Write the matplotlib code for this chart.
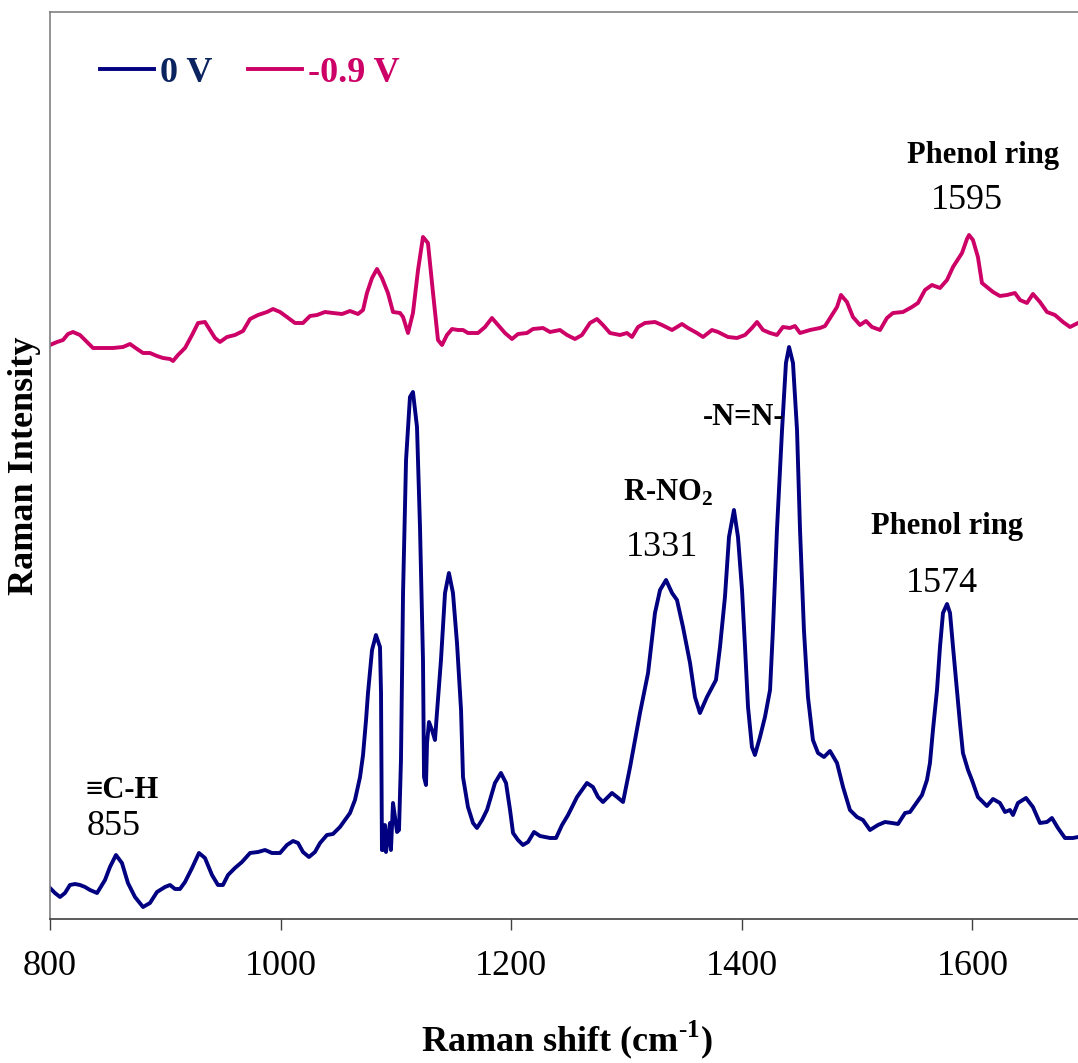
import matplotlib.pyplot as plt
from matplotlib.lines import Line2D

plt.rcParams['font.family'] = ['Liberation Serif', 'DejaVu Serif']
plt.rcParams['mathtext.fontset'] = 'custom'
plt.rcParams['mathtext.rm'] = 'Liberation Serif'
plt.rcParams['mathtext.bf'] = 'Liberation Serif:bold'

# SERS spectrum at 0 V
shift_0v = [800, 804.3, 808.7, 813, 817.3, 821.7, 826, 830.4, 834.7, 840.8, 847.7, 852, 857.2,
            862.4, 867.6, 873.7, 880.7, 886.7, 892.8, 899.7, 904.1, 908.4, 912.7, 917.1, 923.2,
            929.2, 934.4, 940.5, 945.7, 950, 954.4, 960.4, 966.5, 973.5, 980.4, 986.5, 992.5,
            999.5, 1005.5, 1010.8, 1015.1, 1019.4, 1024.6, 1029.8, 1034.2, 1040.2, 1045.4,
            1051.5, 1060.2, 1064.5, 1068.9, 1071.5, 1074.1, 1075.8, 1079.3, 1082.7, 1086.2,
            1087.1, 1087.9, 1088.8, 1090.5, 1091.4, 1094.9, 1095.7, 1097.5, 1101, 1102.7, 1104.4,
            1106.2, 1108.8, 1112.2, 1114.8, 1118.3, 1120.9, 1123.5, 1124.4, 1126.1, 1127, 1128.7,
            1131.3, 1133.9, 1135.6, 1139.1, 1142.6, 1146, 1149.5, 1153, 1156.5, 1158.2, 1162.5,
            1166.9, 1170.3, 1174.7, 1179, 1181.6, 1185.9, 1191.1, 1195.5, 1199, 1201.6, 1205.9,
            1210.2, 1214.6, 1219.8, 1225, 1233.7, 1238.9, 1244.1, 1249.3, 1257.1, 1265.7, 1270.9,
            1275.3, 1279.6, 1287.4, 1291.8, 1297, 1303.1, 1311.7, 1318.7, 1324.7, 1329.1, 1334.3,
            1339.5, 1343.8, 1349, 1355.1, 1359.4, 1363.7, 1369.8, 1377.6, 1381.1, 1385.4, 1388.9,
            1393.2, 1396.7, 1400.2, 1402.8, 1405.4, 1408.8, 1411.4, 1415.8, 1420.1, 1424.5, 1427,
            1430.5, 1434.9, 1438.3, 1441, 1444.4, 1447.9, 1450.5, 1453.9, 1457.4, 1461.7, 1466.1,
            1471.3, 1476.5, 1482.6, 1487.8, 1493.8, 1499.9, 1505.1, 1511.2, 1518.1, 1524.2,
            1530.3, 1535.5, 1541.6, 1545.9, 1550.2, 1556.3, 1560.6, 1563.2, 1565.8, 1569.3,
            1571.9, 1574.5, 1578, 1580.6, 1583.2, 1586.6, 1589.2, 1591.8, 1596.2, 1599.6, 1604.8,
            1612.6, 1617.9, 1623.9, 1628.3, 1632.6, 1635.2, 1639.5, 1646.5, 1652.5, 1658.6,
            1664.7, 1669, 1674.2, 1680.3, 1687.2, 1691.6]
intensity_0v = [31, 26, 22, 26, 34, 35, 34, 32, 29, 26, 39, 52, 64, 56, 36, 22, 12, 16, 27, 32,
                34, 30, 30, 37, 51, 66, 61, 44, 34, 34, 44, 51, 57, 66, 67, 69, 66, 66, 74, 78,
                76, 67, 62, 67, 76, 84, 85, 92, 106, 119, 142, 164, 199, 226, 269, 284, 272, 226,
                69, 69, 94, 67, 96, 69, 116, 87, 89, 159, 326, 459, 522, 527, 492, 392, 259, 142,
                134, 176, 197, 189, 179, 206, 259, 326, 346, 326, 276, 209, 142, 112, 96, 91, 99,
                109, 119, 136, 146, 136, 109, 86, 79, 74, 77, 87, 83, 81, 81, 94, 104, 122, 136,
                132, 122, 117, 126, 122, 117, 152, 206, 246, 306, 329, 339, 326, 319, 292, 256,
                222, 206, 222, 239, 272, 322, 382, 409, 382, 329, 272, 212, 172, 164, 182, 202,
                229, 289, 389, 489, 556, 572, 556, 489, 389, 289, 222, 179, 166, 162, 168, 156,
                132, 109, 102, 99, 89, 94, 97, 96, 95, 106, 107, 114, 124, 139, 156, 189, 229,
                272, 306, 315, 306, 272, 229, 196, 166, 149, 139, 122, 113, 120, 116, 107, 109,
                104, 116, 121, 112, 96, 97, 101, 91, 81, 81, 82]

# SERS spectrum at -0.9 V
shift_09v = [800, 806.1, 811.3, 815.6, 819.9, 826, 832.1, 837.3, 846, 854.6, 863.3, 869.4,
             875.5, 880.7, 886.7, 892.8, 898, 904.1, 906.7, 911, 917.1, 923.2, 928.4, 934.4,
             938.8, 943.1, 947.4, 953.5, 960.4, 967.4, 973.5, 980.4, 988.2, 993.4, 999.5,
             1005.5, 1012.5, 1019.4, 1025.5, 1031.6, 1038.5, 1045.4, 1053.3, 1060.2, 1067.1,
             1071.5, 1074.9, 1079.3, 1083.6, 1087.9, 1093.1, 1097.5, 1103.6, 1106.2, 1110.5,
             1114.8, 1119.2, 1123.5, 1127.8, 1132.2, 1136.5, 1140, 1144.3, 1148.7, 1153.9,
             1158.2, 1162.5, 1166.9, 1171.2, 1177.3, 1183.3, 1188.6, 1194.6, 1200.7, 1205.9,
             1213.7, 1218.9, 1227.6, 1233.7, 1242.3, 1248.4, 1255.3, 1261.4, 1268.3, 1274.4,
             1279.6, 1285.7, 1294.4, 1300.4, 1304.8, 1310, 1316, 1324.7, 1330.8, 1339.5, 1348.1,
             1353.3, 1361.1, 1366.4, 1374.1, 1379.4, 1388, 1395.8, 1402.8, 1408.8, 1413.2,
             1418.4, 1424.5, 1430.5, 1435.7, 1441.8, 1446.1, 1450.5, 1459.2, 1467.8, 1472.2,
             1478.2, 1482.6, 1486, 1491.2, 1496.4, 1502.5, 1507.7, 1512.9, 1519.9, 1525.9,
             1531.1, 1539.8, 1547.6, 1552.8, 1558.9, 1564.9, 1571.9, 1578, 1583.2, 1591, 1595.3,
             1597.1, 1600.5, 1604.8, 1608.3, 1612.6, 1617.9, 1623.9, 1630, 1636.9, 1641.3,
             1647.3, 1652.5, 1658.6, 1664.7, 1671.6, 1678.6, 1684.7, 1691.6]
intensity_09v = [574, 577, 579, 585, 587, 584, 577, 571, 571, 571, 572, 575, 570, 566, 566, 563,
                 561, 560, 558, 564, 571, 584, 596, 597, 589, 581, 577, 582, 584, 588, 600, 604,
                 607, 610, 607, 602, 596, 596, 603, 604, 607, 606, 605, 608, 605, 609, 626, 641,
                 650, 641, 626, 607, 606, 602, 586, 606, 649, 682, 676, 626, 579, 574, 584, 590,
                 589, 589, 586, 586, 586, 592, 601, 594, 586, 580, 585, 586, 590, 591, 587, 589,
                 584, 580, 584, 596, 600, 594, 586, 584, 586, 582, 592, 596, 597, 594, 589, 595,
                 591, 586, 582, 589, 587, 582, 581, 584, 591, 597, 589, 586, 584, 592, 591, 593,
                 586, 589, 591, 593, 604, 612, 624, 617, 602, 594, 598, 592, 589, 601, 606, 607,
                 612, 616, 629, 634, 631, 639, 652, 666, 680, 684, 679, 662, 636, 632, 627, 623,
                 624, 626, 619, 616, 625, 617, 607, 604, 597, 592, 596]

series_labels = ['0 V', '-0.9 V']
line_colors = ['#000080', '#CC0066']
text_colors = ['#0B2460', '#CC0066']

# band assignments: (text, x, y) in data units, bold name line then wavenumber line
band_names = [('Phenol ring', 1609, 756), ('-N=N-', 1402, 494), (r'R-NO$_\mathbf{2}$', 1336, 418),
              ('Phenol ring', 1578, 385)]
band_values = [('1595', 1595, 710), ('1331', 1331, 363), ('1574', 1574, 327)]

fig = plt.figure(figsize=(10.78, 10.63), dpi=100)
ax = fig.add_axes([50 / 1078, 144 / 1063, 1028 / 1078, 907 / 1063])

ax.plot(shift_0v, intensity_0v, color=line_colors[0], lw=2.8, solid_joinstyle='round')
ax.plot(shift_09v, intensity_09v, color=line_colors[1], lw=2.8, solid_joinstyle='round')

ax.set_xlim(800, 1691.6)
ax.set_ylim(0, 907)
ax.set_xticks([800, 1000, 1200, 1400, 1600])
ax.set_yticks([])
ax.tick_params(axis='x', direction='out', length=8, width=1, pad=14, labelsize=26,
               color='#404040')

ax.spines['right'].set_visible(False)
for side in ('left', 'top'):
    ax.spines[side].set_color('#808080')
    ax.spines[side].set_linewidth(1.2)
ax.spines['bottom'].set_color('#404040')
ax.spines['bottom'].set_linewidth(1.2)

for txt, x, y in band_names:
    ax.text(x, y, txt, ha='center', va='baseline', fontsize=22, fontweight='bold')
for txt, x, y in band_values:
    ax.text(x, y, txt, ha='center', va='baseline', fontsize=26)
ax.text(831, 121, '\u2261C-H', ha='left', va='baseline', fontsize=22, fontweight='bold')
ax.text(832, 84, '855', ha='left', va='baseline', fontsize=26)

handles = [Line2D([], [], color=c, lw=2.8) for c in line_colors]
ax.legend(handles, series_labels, loc='center left', bbox_to_anchor=(50 / 1028, 846 / 907),
          ncol=2, frameon=False, handlelength=1.5, handletextpad=0.15,
          columnspacing=1.0, borderpad=0, borderaxespad=0, labelcolor=text_colors,
          prop={'weight': 'bold', 'size': 26})

fig.text(567 / 1078, 1 - 1051 / 1063, r'Raman shift (cm$^{\mathbf{\text{-}1}}$)', ha='center',
         va='baseline', fontsize=26, fontweight='bold')
fig.text(25 / 1078, 1 - 466 / 1063, 'Raman Intensity', ha='center', va='center',
         rotation=90, fontsize=26, fontweight='bold')

fig.savefig('out.png', dpi=100)
